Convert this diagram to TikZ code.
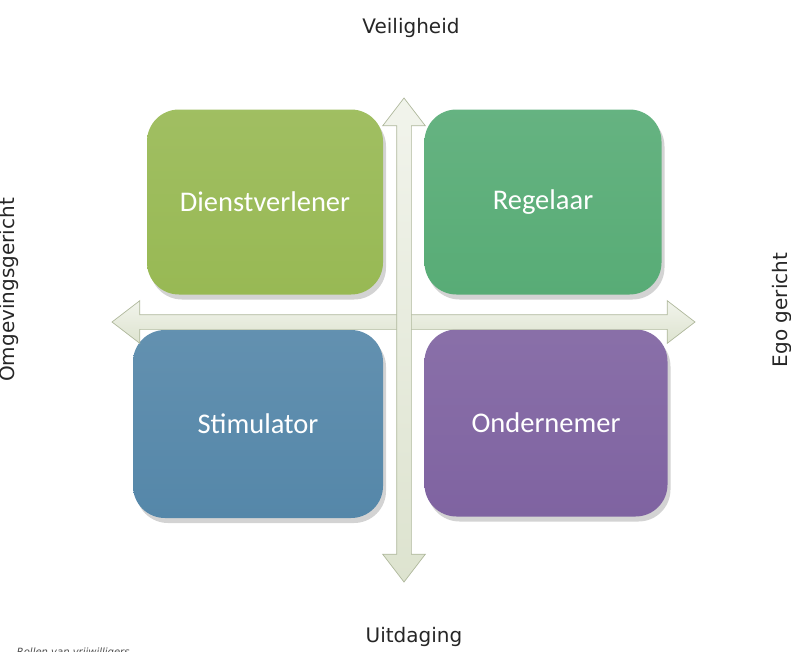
\documentclass[tikz,border=0pt]{standalone}
\usepackage{fontspec}
\setmainfont{DejaVu Sans}
\newfontfamily\rolfont{Carlito}
\usetikzlibrary{shapes.arrows,shadows,positioning}

\definecolor{dienstgroen}{HTML}{98B954}
\definecolor{regelgroen}{HTML}{58AC76}
\definecolor{stimblauw}{HTML}{5587A9}
\definecolor{onderpaars}{HTML}{7F63A1}
\definecolor{pijlvul}{HTML}{DDE3CF}
\definecolor{pijlrand}{HTML}{AFB89C}

\begin{document}
\begin{tikzpicture}[x=1pt,y=-1pt,
    rol/.style={rounded corners=32pt, inner sep=0pt, text=white,
      font=\rolfont\fontsize{28.5}{32}\selectfont,
      drop shadow={shadow xshift=3pt, shadow yshift=-5pt, opacity=0.35}},
    pijl/.style={double arrow, double arrow head extend=14pt, double arrow tip angle=75,
      inner xsep=0pt, inner ysep=7pt, draw=pijlrand, line width=0.7pt,
      top color=white!60!pijlvul, bottom color=pijlvul},
    aslabel/.style={font=\fontsize{20}{22}\selectfont, text=black!85}]
    \clip (0,0) rectangle (791,651);

    % de vier rollen
    \node [rol, top color=dienstgroen!92!white, bottom color=dienstgroen, minimum width=236pt, minimum height=185pt] (dienst) at (265,202) {Dienstverlener};
    \node [rol, top color=regelgroen!92!white, bottom color=regelgroen, minimum width=237pt, minimum height=185pt] (regel) at (543,202) {Regelaar};
    \node [rol, top color=stimblauw!92!white, bottom color=stimblauw, minimum width=250pt, minimum height=188pt] (stim) at (258,424) {Stimulator};
    \node [rol, top color=onderpaars!92!white, bottom color=onderpaars, minimum width=243pt, minimum height=187pt] (onder) at (546,423) {Ondernemer};

    % assen
    \node [pijl, minimum height=583pt] (hoas) at (403.5,322) {};
    \node [pijl, minimum height=484pt, rotate=90] (vas) at (404,340) {};

    % aslabels
    \node [aslabel] (veilig) at (411,28) {Veiligheid};
    \node [aslabel] (uitdaging) at (414,637) {Uitdaging};
    \node [aslabel, rotate=90] (omgeving) at (9,290) {Omgevingsgericht};
    \node [aslabel, rotate=90] (ego) at (782,310) {Ego gericht};

    \node [anchor=north east, font=\itshape\fontsize{10}{12}\selectfont, text=black!70] (bijschrift) at (133,644) {Rollen van vrijwilligers};
\end{tikzpicture}
\end{document}
